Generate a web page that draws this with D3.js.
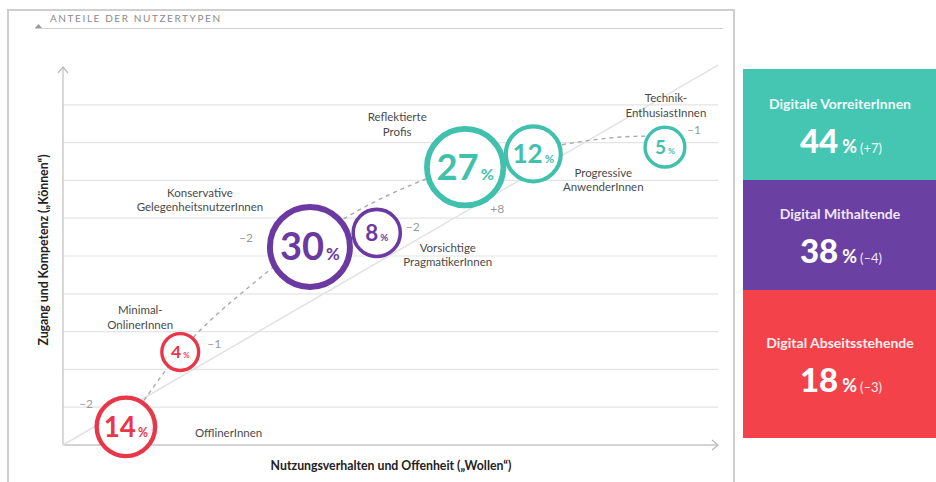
<!DOCTYPE html>
<html>
<head>
<meta charset="utf-8">
<script src="https://cdn.jsdelivr.net/npm/d3@7"></script>
<style>
  body { margin: 0; background: #fff; font-family: "Lato", "Open Sans", sans-serif; }
  svg { display: block; }
</style>
</head>
<body>
<div id="chart"></div>
<script>
// user types (Nutzertypen)
const types = ["OfflinerInnen", "Minimal-OnlinerInnen", "Konservative GelegenheitsnutzerInnen",
  "Vorsichtige PragmatikerInnen", "Reflektierte Profis", "Progressive AnwenderInnen", "Technik-EnthusiastInnen"];
const typeLines = [["OfflinerInnen"], ["Minimal-", "OnlinerInnen"], ["Konservative", "GelegenheitsnutzerInnen"],
  ["Vorsichtige", "PragmatikerInnen"], ["Reflektierte", "Profis"], ["Progressive", "AnwenderInnen"], ["Technik-", "EnthusiastInnen"]];
const shares = [14, 4, 30, 8, 27, 12, 5];
const changes = [-2, -1, -2, -2, 8, null, -1];
const groupOf = [2, 2, 1, 1, 0, 0, 0];
// position on the two dimensions (0..10)
const wollen = [0.96, 1.79, 3.77, 4.79, 6.14, 7.18, 9.19];
const koennen = [0.48, 2.46, 5.24, 5.61, 7.35, 7.70, 7.88];

// dashed development path
const trendX = [0.96, 1.79, 2.93, 4.38, 5.50, 7.18, 8.89, 9.19];
const trendY = [0.48, 2.46, 4.31, 6.08, 7.01, 7.80, 8.17, 8.17];

// groups (right panel)
const groups = ["Digitale VorreiterInnen", "Digital Mithaltende", "Digital Abseitsstehende"];
const groupShares = [44, 38, 18];
const groupChanges = ["+7", "-4", "-3"];

const colors = ["#44c6b3", "#6b40a3", "#f4424a"];
const strokeColors = ["#3fc1ad", "#6a3aa2", "#e9374a"];
const titleColors = ["#eefaf8", "#f1e6fa", "#fdeeee"];

// label layout (px offsets from circle centre)
const nameLayout = [
  {dx: 69, dy: 10, anchor: "start"}, {dx: -40, dy: -38, anchor: "middle"}, {dx: -110, dy: -50, anchor: "middle"},
  {dx: 71, dy: 19, anchor: "middle"}, {dx: -68, dy: -46, anchor: "middle"}, {dx: 70, dy: 23, anchor: "middle"},
  {dx: 1, dy: -45, anchor: "middle"}];
const changeLayout = [[-40, -23], [34, -8], [-64, -9], [36, -6], [32, 42], [0, 0], [29, -17]];

const W = 936, H = 482;
const svg = d3.select("#chart").append("svg").attr("width", W).attr("height", H);

// frame + header
svg.append("path").attr("d", "M8,482 V10 H734 V482").attr("fill", "none").attr("stroke", "#cfcfcf").attr("stroke-width", 2);
svg.append("line").attr("x1", 35).attr("x2", 723).attr("y1", 28.5).attr("y2", 28.5).attr("stroke", "#d0d0d0");
svg.append("path").attr("d", "M35,28 L38.5,24 L42,28 Z").attr("fill", "#999");
svg.append("text").attr("x", 50).attr("y", 22).text("ANTEILE DER NUTZERTYPEN")
  .style("font-size", "10px").style("letter-spacing", "1.6px").style("fill", "#8a8a8a");

const x = d3.scaleLinear().domain([0, 10]).range([63, 718]);
const y = d3.scaleLinear().domain([0, 10]).range([445, 67]);
const r = d3.scaleSqrt().domain([0, 30]).range([6, 40]);

// grid
svg.append("g").selectAll("line").data(d3.range(1, 10)).join("line")
  .attr("x1", x(0)).attr("x2", x(10)).attr("y1", d => y(d)).attr("y2", d => y(d))
  .attr("stroke", "#e4e4e4").attr("stroke-width", 1.2);

// axes
svg.append("line").attr("x1", x(0)).attr("x2", x(0)).attr("y1", y(0)).attr("y2", y(10))
  .attr("stroke", "#c4c4c4").attr("stroke-width", 1.3);
svg.append("line").attr("x1", x(0)).attr("x2", x(10)).attr("y1", y(0)).attr("y2", y(0))
  .attr("stroke", "#c4c4c4").attr("stroke-width", 1.3);
svg.append("path").attr("d", `M${x(0) - 5},${y(10) + 6} L${x(0)},${y(10)} L${x(0) + 5},${y(10) + 6}`)
  .attr("fill", "none").attr("stroke", "#bbb").attr("stroke-width", 1.3);
svg.append("path").attr("d", `M${x(10) - 6},${y(0) - 5} L${x(10)},${y(0)} L${x(10) - 6},${y(0) + 5}`)
  .attr("fill", "none").attr("stroke", "#bbb").attr("stroke-width", 1.3);

// diagonal
svg.append("line").attr("x1", x(0)).attr("y1", y(0)).attr("x2", x(10)).attr("y2", y(10.05))
  .attr("stroke", "#e2e2e2").attr("stroke-width", 1.5);

// axis titles
svg.append("text").attr("x", 391).attr("y", 470).attr("text-anchor", "middle")
  .text("Nutzungsverhalten und Offenheit („Wollen“)")
  .style("font-size", "12.3px").style("font-weight", "bold").style("fill", "#222");
svg.append("text").attr("transform", "translate(48,250) rotate(-90)").attr("text-anchor", "middle")
  .text("Zugang und Kompetenz („Können“)")
  .style("font-size", "12.3px").style("font-weight", "bold").style("fill", "#222");

// dashed trend
svg.append("path").datum(d3.zip(trendX, trendY))
  .attr("d", d3.line().x(d => x(d[0])).y(d => y(d[1])).curve(d3.curveMonotoneX))
  .attr("fill", "none").attr("stroke", "#a9a9a9").attr("stroke-width", 1.4).attr("stroke-dasharray", "4,4");

const data = types.map((t, i) => ({
  name: t, lines: typeLines[i], share: shares[i], change: changes[i], g: groupOf[i],
  cx: x(wollen[i]), cy: y(koennen[i]), r: r(shares[i]), nl: nameLayout[i], cl: changeLayout[i]
}));

// circles
const node = svg.append("g").selectAll("g").data(data).join("g")
  .attr("transform", d => `translate(${d.cx},${d.cy})`);
node.append("circle").attr("r", d => d.r)
  .attr("fill", "#fff").attr("stroke", d => strokeColors[d.g])
  .attr("stroke-width", d => Math.max(3.4, d.r * 0.15));

const num = node.append("text").attr("text-anchor", "middle")
  .attr("dy", d => d.r * 0.33)
  .style("fill", d => strokeColors[d.g]).style("font-weight", "bold");
num.append("tspan").text(d => d.share).style("font-size", d => (d.r * 0.95) + "px");
num.append("tspan").text("%").attr("dx", 2).style("font-size", d => (d.r * 0.42) + "px");

// change values
node.filter(d => d.change !== null).append("text")
  .attr("x", d => d.cl[0]).attr("y", d => d.cl[1] + 4).attr("text-anchor", "middle")
  .text(d => (d.change > 0 ? "+" : "–") + Math.abs(d.change))
  .style("font-size", "12px").style("fill", "#999");

// names
node.append("text")
  .attr("text-anchor", d => d.nl.anchor)
  .style("font-size", "11.5px").style("fill", "#4a4a4a")
  .selectAll("tspan").data(d => d.lines.map((l, k) => ({l, k, d}))).join("tspan")
  .attr("x", e => e.d.nl.dx).attr("y", e => e.d.nl.dy + e.k * 14.5)
  .text(e => e.l);

// right panel
const boxTop = [69, 180, 290];
const boxBottom = [180, 290, 438];
const panel = svg.append("g").selectAll("g").data(groups).join("g");
panel.append("rect").attr("x", 743).attr("width", W - 743)
  .attr("y", (d, i) => boxTop[i]).attr("height", (d, i) => boxBottom[i] - boxTop[i])
  .attr("fill", (d, i) => colors[i]);
panel.append("text").attr("x", 840).attr("text-anchor", "middle")
  .attr("y", (d, i) => (boxTop[i] + boxBottom[i]) / 2 - 16)
  .text(d => d).style("font-size", "14px").style("font-weight", "bold").style("fill", (d, i) => titleColors[i]);
const big = panel.append("text").attr("x", 841).attr("text-anchor", "middle")
  .attr("y", (d, i) => (boxTop[i] + boxBottom[i]) / 2 + 28)
  .style("fill", "#fff");
big.append("tspan").text((d, i) => groupShares[i]).style("font-size", "33px").style("font-weight", "900");
big.append("tspan").text("%").attr("dx", 4).style("font-size", "18px").style("font-weight", "bold");
big.append("tspan").text((d, i) => "(" + groupChanges[i].replace("-", "–") + ")").attr("dx", 3)
  .style("font-size", "13px").style("fill", (d, i) => titleColors[i]);
</script>
</body>
</html>
